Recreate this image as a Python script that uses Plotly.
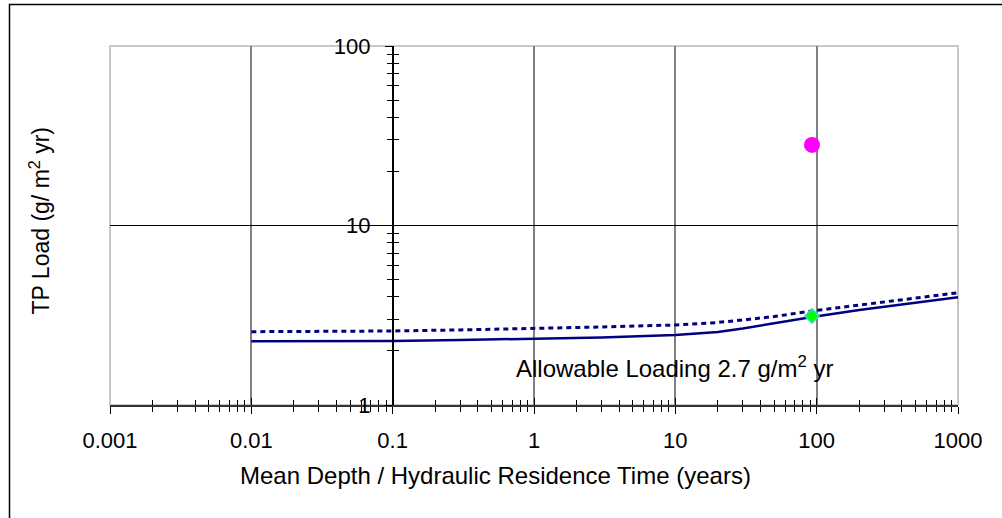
import plotly.graph_objects as go

# ---- data ----
x_line = [0.01, 0.03, 0.1, 0.3, 1, 3, 10, 20, 30, 50, 93, 200, 500, 1000]
solid_y = [2.264, 2.262, 2.273, 2.302, 2.332, 2.377, 2.455, 2.551, 2.668, 2.863, 3.093, 3.382, 3.724, 3.98]
dashed_y = [2.561, 2.565, 2.584, 2.62, 2.668, 2.72, 2.791, 2.882, 2.975, 3.112, 3.340, 3.607, 3.945, 4.222]

point_x = [92.7]
current_load = [28.1]
allowable_point = [3.13]

x_tick_vals = [0.001, 0.01, 0.1, 1, 10, 100, 1000]
x_tick_text = ["0.001", "0.01", "0.1", "1", "10", "100", "1000"]
x_grid_vals = [0.01, 1, 10, 100]
y_tick_vals = [1, 10, 100]
y_tick_text = ["1", "10", "100"]
y_grid_vals = [10]

FONT = "Liberation Sans, Arial, sans-serif"
NAVY = "#000080"

fig = go.Figure()
# empty helper traces so that the overlay axes (crossing ticks, grid) get drawn
fig.add_trace(go.Scatter(x=[], y=[], xaxis="x2", yaxis="y2", showlegend=False, hoverinfo="skip"))
fig.add_trace(go.Scatter(x=[], y=[], xaxis="x3", yaxis="y3", showlegend=False, hoverinfo="skip"))

fig.add_trace(go.Scatter(x=x_line, y=solid_y, mode="lines",
                         line=dict(color=NAVY, width=2.5), showlegend=False, hoverinfo="skip"))
fig.add_trace(go.Scatter(x=x_line, y=dashed_y, mode="lines",
                         line=dict(color=NAVY, width=3, dash="5px,4px"), showlegend=False, hoverinfo="skip"))
fig.add_trace(go.Scatter(x=point_x, y=current_load, mode="markers",
                         marker=dict(color="#FF00FF", size=16, symbol="circle"), showlegend=False))
fig.add_trace(go.Scatter(x=point_x, y=allowable_point, mode="markers",
                         marker=dict(color="#00FF00", size=11, symbol="diamond",
                                     line=dict(color="#40D8C8", width=1.5)), showlegend=False))

xr = [-3, 3]
yr = [0, 2]
minor_out = dict(ticks="outside", ticklen=5, tickcolor="black", tickwidth=1, dtick="D1", showgrid=False)
minor_in = dict(ticks="inside", ticklen=5, tickcolor="black", tickwidth=1, dtick="D1", showgrid=False)

fig.update_layout(
    width=1002, height=518,
    margin=dict(l=110, r=44, t=46, b=113),
    paper_bgcolor="white", plot_bgcolor="white",
    font=dict(family=FONT, color="black", size=22),
    xaxis=dict(type="log", range=xr, domain=[0, 1], anchor="y",
               showline=True, linecolor="#333333", linewidth=1.5,
               tickmode="array", tickvals=x_tick_vals, ticktext=x_tick_text,
               ticks="outside", ticklen=7, tickcolor="black", tickwidth=1,
               minor=minor_out, showgrid=False, zeroline=False,
               tickfont=dict(size=22), ticklabelstandoff=8),
    xaxis2=dict(type="log", range=xr, overlaying="x", anchor="y", side="bottom",
                ticks="inside", ticklen=7, tickcolor="black", tickwidth=1,
                tickmode="array", tickvals=x_tick_vals,
                minor=minor_in, showticklabels=False, showgrid=False,
                showline=False, zeroline=False),
    xaxis3=dict(type="log", range=xr, overlaying="x", anchor="y", side="bottom",
                tickmode="array", tickvals=x_grid_vals, ticks="",
                showticklabels=False, showgrid=True, gridcolor="#808080", gridwidth=1.5,
                showline=False, zeroline=False),
    yaxis=dict(type="log", range=yr, anchor="free", position=1/3,
               showline=True, linecolor="black", linewidth=1.5,
               tickmode="array", tickvals=y_tick_vals, ticktext=y_tick_text,
               ticks="outside", ticklen=7, tickcolor="black", tickwidth=1,
               minor=minor_out, showgrid=False, zeroline=False,
               tickfont=dict(size=22), ticklabelstandoff=10),
    yaxis2=dict(type="log", range=yr, overlaying="y", anchor="free", position=1/3,
                ticks="inside", ticklen=7, tickcolor="black", tickwidth=1,
                tickmode="array", tickvals=y_tick_vals,
                minor=minor_in, showticklabels=False, showgrid=False,
                showline=False, zeroline=False),
    yaxis3=dict(type="log", range=yr, overlaying="y", anchor="x",
                tickmode="array", tickvals=y_grid_vals, ticks="",
                showticklabels=False, showgrid=True, gridcolor="black", gridwidth=1,
                showline=False, zeroline=False),
    shapes=[
        dict(type="rect", xref="paper", yref="paper", x0=0, x1=1, y0=0, y1=1,
             line=dict(color="#C8C8C8", width=2), layer="below"),
        dict(type="rect", xref="paper", yref="paper",
             x0=(9.5 - 110) / 848, x1=(1010 - 110) / 848,
             y0=(405 - 530) / 359, y1=(405 - 4.5) / 359,
             line=dict(color="black", width=1.5), layer="above"),
    ],
    annotations=[
        dict(text="TP Load (g/ m<sup>2</sup> yr)", xref="paper", yref="paper",
             x=(40 - 110) / 848, y=(405 - 221.5) / 359, textangle=-90,
             showarrow=False, font=dict(size=23), xanchor="center", yanchor="middle"),
        dict(text="Mean Depth / Hydraulic Residence Time (years)", xref="paper", yref="paper",
             x=(495 - 110) / 848, y=(405 - 475) / 359, xanchor="center", yanchor="middle",
             showarrow=False, font=dict(size=24)),
        dict(text="Allowable Loading 2.7 g/m<sup>2</sup> yr", xref="paper", yref="paper",
             x=(514 - 110) / 848, y=(405 - 366.7) / 359, xanchor="left", yanchor="middle",
             showarrow=False, font=dict(size=24)),
    ],
)

fig.write_html("out.html")
